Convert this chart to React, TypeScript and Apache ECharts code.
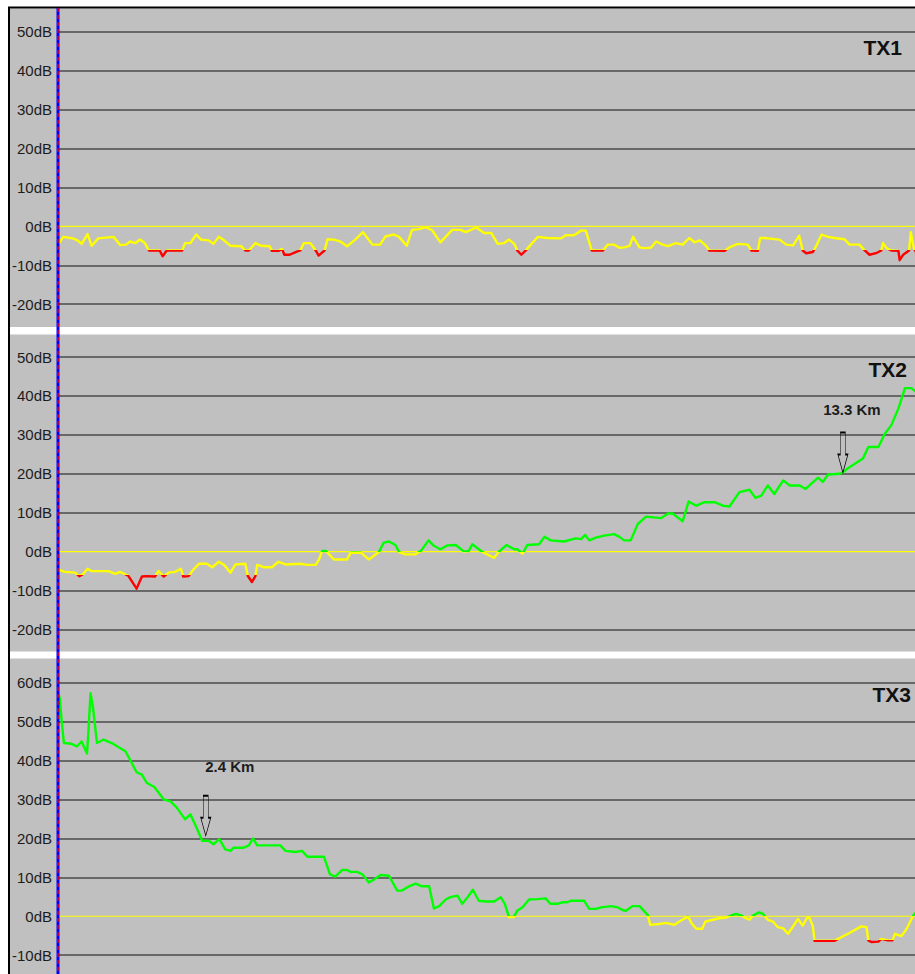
import { useEffect, useRef } from 'react';
import * as echarts from 'echarts';

// ---------------- data (distance in km, level in dB) ----------------
const panelTitles = ['TX1', 'TX2', 'TX3'];
const yMin = [-20, -20, -10];
const yMax = [50, 50, 60];
const yStep = 10;
const xMaxKm = 14.5;

const tx1: number[][] = [
  [0, -4.7], [0.09, -2.7], [0.25, -3.1], [0.33, -3.6], [0.4, -4.5], [0.5, -2.0], [0.57, -5.0], [0.68, -3.1],
  [0.94, -2.7], [1.05, -4.8], [1.15, -4.7], [1.22, -3.9], [1.31, -4.3], [1.39, -3.4], [1.47, -4.3], [1.54, -6.2],
  [1.72, -6.2], [1.77, -7.7], [1.84, -6.2], [2.1, -6.2], [2.15, -4.3], [2.24, -4.3], [2.34, -2.1], [2.42, -3.4],
  [2.55, -3.6], [2.63, -4.5], [2.72, -2.7], [2.81, -3.6], [2.92, -5.0], [3.1, -5.1], [3.17, -6.2], [3.23, -6.2],
  [3.34, -4.3], [3.44, -5.0], [3.58, -5.1], [3.62, -6.3], [3.73, -6.3], [3.79, -5.8], [3.83, -7.3], [3.92, -7.3],
  [4.02, -6.6], [4.1, -6.2], [4.16, -4.3], [4.27, -4.3], [4.36, -6.2], [4.41, -7.5], [4.51, -6.2], [4.56, -3.3],
  [4.67, -3.4], [4.78, -3.9], [4.89, -5.1], [5.03, -3.4], [5.16, -1.5], [5.32, -4.7], [5.45, -4.7], [5.54, -2.6],
  [5.68, -2.1], [5.77, -2.7], [5.9, -5.0], [5.99, -0.9], [6.11, -0.7], [6.22, -0.2], [6.33, -1.0], [6.47, -4.1],
  [6.67, -0.9], [6.81, -0.9], [6.9, -1.5], [7.08, -0.3], [7.21, -1.7], [7.33, -1.7], [7.44, -4.5], [7.55, -4.3],
  [7.63, -3.4], [7.72, -4.5], [7.77, -6.2], [7.84, -7.3], [7.92, -6.1], [8.0, -4.7], [8.12, -2.7], [8.28, -3.0],
  [8.51, -3.1], [8.59, -2.3], [8.73, -2.3], [8.85, -1.1], [8.93, -1.1], [9.03, -6.2], [9.22, -6.2], [9.3, -4.7],
  [9.41, -4.7], [9.5, -5.5], [9.58, -5.4], [9.67, -5.0], [9.73, -2.7], [9.84, -5.4], [9.92, -5.6], [10.03, -5.5],
  [10.12, -3.9], [10.23, -4.7], [10.32, -5.1], [10.45, -4.3], [10.57, -4.7], [10.68, -3.0], [10.77, -4.1], [10.86, -3.6],
  [10.97, -5.1], [11.02, -6.2], [11.28, -6.3], [11.36, -5.4], [11.5, -4.5], [11.67, -4.7], [11.73, -6.2], [11.84, -6.3],
  [11.88, -3.0], [11.95, -3.0], [12.21, -3.4], [12.32, -4.7], [12.44, -4.9], [12.54, -2.4], [12.6, -6.2], [12.66, -6.9],
  [12.77, -6.6], [12.82, -5.3], [12.92, -2.1], [13.03, -2.7], [13.14, -3.0], [13.31, -3.3], [13.39, -4.7], [13.56, -4.7],
  [13.65, -6.2], [13.73, -7.3], [13.84, -6.9], [13.93, -6.2], [13.96, -4.3], [14.02, -5.6], [14.1, -6.2], [14.22, -6.3],
  [14.24, -8.7], [14.3, -7.3], [14.4, -6.2], [14.43, -1.5], [14.48, -5.6], [14.53, -7.0],
];

const tx2: number[][] = [
  [0, -4.6], [0.12, -5.2], [0.29, -5.4], [0.36, -6.3], [0.43, -5.7], [0.5, -4.4], [0.57, -5.0], [0.85, -5.0],
  [0.97, -5.7], [1.05, -5.2], [1.19, -6.2], [1.33, -9.5], [1.42, -6.4], [1.5, -6.3], [1.64, -6.4], [1.7, -5.0],
  [1.79, -6.4], [1.87, -5.4], [1.98, -5.2], [2.08, -4.4], [2.12, -6.4], [2.21, -6.3], [2.29, -4.6], [2.39, -3.1],
  [2.52, -3.1], [2.61, -4.0], [2.72, -2.6], [2.81, -3.4], [2.92, -5.4], [3.0, -3.3], [3.17, -3.1], [3.21, -6.2],
  [3.28, -7.8], [3.34, -6.3], [3.37, -3.4], [3.48, -4.0], [3.62, -4.0], [3.73, -2.6], [3.85, -3.3], [4.1, -3.1],
  [4.22, -3.4], [4.36, -3.4], [4.41, -2.2], [4.47, 0.2], [4.53, 0.2], [4.67, -2.0], [4.89, -2.0], [4.95, -0.3],
  [5.13, -0.3], [5.26, -2.0], [5.43, -0.1], [5.51, 2.3], [5.6, 2.6], [5.71, 1.7], [5.77, -0.1], [5.88, -0.7],
  [6.05, -0.7], [6.14, 0.2], [6.27, 2.9], [6.36, 1.5], [6.47, 0.6], [6.59, 1.6], [6.73, 1.7], [6.87, 0],
  [6.95, 0.2], [7.01, 1.9], [7.18, -0.1], [7.38, -1.6], [7.46, 0], [7.59, 1.7], [7.72, 0.6], [7.77, 0.6],
  [7.86, -0.5], [7.94, 1.7], [8.14, 1.9], [8.23, 3.8], [8.34, 2.9], [8.56, 2.6], [8.76, 3.4], [8.85, 3.2],
  [8.92, 4.3], [8.99, 2.9], [9.1, 3.6], [9.24, 4.1], [9.41, 4.5], [9.5, 3.8], [9.58, 2.9], [9.69, 2.9],
  [9.81, 7.1], [9.95, 9.0], [10.2, 8.6], [10.32, 9.8], [10.4, 9.8], [10.57, 7.8], [10.67, 12.9], [10.8, 11.8],
  [10.94, 12.7], [11.11, 12.7], [11.25, 11.8], [11.36, 11.6], [11.53, 15.3], [11.7, 15.9], [11.8, 13.8], [11.9, 14.4],
  [12.01, 17.0], [12.12, 14.8], [12.27, 18.3], [12.38, 17.0], [12.55, 17.0], [12.65, 16.1], [12.86, 19.0], [12.94, 17.9],
  [13.03, 19.8], [13.23, 20.0], [13.28, 20.4], [13.39, 21.7], [13.62, 23.9], [13.71, 26.9], [13.88, 26.9], [13.99, 30.3],
  [14.1, 32.5], [14.22, 36.8], [14.33, 42.0], [14.44, 42.0], [14.53, 40.9],
];

const tx3: number[][] = [
  [0, 57.3], [0.03, 56.0], [0.06, 50.5], [0.1, 44.5], [0.23, 44.3], [0.32, 43.6], [0.4, 44.9], [0.49, 41.8],
  [0.51, 46.2], [0.55, 57.3], [0.59, 53.9], [0.66, 44.5], [0.77, 45.4], [0.91, 44.5], [1.02, 43.5], [1.14, 42.4],
  [1.22, 40.2], [1.33, 37.0], [1.42, 36.4], [1.5, 34.3], [1.63, 33.2], [1.79, 30.0], [1.9, 29.6], [2.01, 27.9],
  [2.15, 24.9], [2.24, 26.2], [2.32, 23.6], [2.44, 19.4], [2.55, 19.4], [2.63, 18.5], [2.73, 19.8], [2.83, 17.2],
  [2.92, 16.8], [2.97, 17.6], [3.14, 17.6], [3.23, 18.2], [3.3, 20.0], [3.37, 18.2], [3.76, 18.2], [3.85, 16.8],
  [4.02, 16.5], [4.13, 16.8], [4.22, 15.3], [4.5, 15.3], [4.6, 10.8], [4.69, 10.2], [4.81, 11.9], [4.89, 11.9],
  [4.95, 11.4], [5.06, 11.4], [5.15, 10.8], [5.26, 8.7], [5.34, 9.4], [5.46, 10.6], [5.6, 10.4], [5.74, 6.6],
  [5.82, 6.6], [5.94, 7.7], [6.05, 8.4], [6.16, 7.7], [6.28, 7.7], [6.36, 2.0], [6.45, 2.6], [6.56, 4.3],
  [6.64, 4.9], [6.76, 5.3], [6.84, 3.2], [6.93, 4.9], [7.02, 6.8], [7.12, 4.0], [7.24, 3.8], [7.38, 3.8],
  [7.49, 4.9], [7.56, 3.2], [7.63, -0.2], [7.71, -0.2], [7.77, 1.4], [7.86, 2.3], [7.97, 4.3], [8.11, 4.4],
  [8.25, 4.6], [8.33, 3.2], [8.45, 3.2], [8.54, 3.6], [8.62, 3.6], [8.68, 4.0], [8.9, 4.0], [8.99, 1.9],
  [9.1, 1.9], [9.19, 2.3], [9.36, 2.6], [9.47, 2.3], [9.55, 1.6], [9.61, 1.4], [9.72, 2.6], [9.84, 2.6],
  [9.98, 0.3], [10.02, -2.2], [10.17, -2.0], [10.29, -1.7], [10.43, -2.2], [10.54, -1.1], [10.66, -0.1], [10.73, -2.0],
  [10.8, -3.2], [10.9, -3.2], [10.95, -1.4], [11.08, -0.9], [11.19, -0.5], [11.31, -0.3], [11.39, 0.2], [11.47, 0.6],
  [11.56, 0.2], [11.64, -0.5], [11.7, -0.9], [11.76, 0.2], [11.86, 1.0], [11.93, 0.6], [12.01, -0.9], [12.1, -1.4],
  [12.18, -2.8], [12.27, -3.1], [12.35, -4.5], [12.41, -3.2], [12.52, -0.7], [12.6, -2.4], [12.67, -0.5], [12.71, -0.3],
  [12.77, -2.4], [12.8, -6.3], [13.14, -6.3], [13.2, -5.8], [13.39, -4.3], [13.59, -2.6], [13.68, -2.8], [13.71, -6.2],
  [13.76, -6.6], [13.88, -6.5], [13.93, -5.8], [14.04, -6.2], [14.12, -6.2], [14.16, -4.5], [14.27, -5.1], [14.36, -3.2],
  [14.47, 0.2], [14.53, 1.2],
];

const seriesData = [tx1, tx2, tx3];

// level classes: red below -6 dB, yellow -6..0 dB, green above 0 dB
const redBelow = -6;
const greenFrom = 0;

// distance markers
const markerPanels = [1, 2];
const markerKm = [13.28, 2.5];
const markerDb = [20.3, 20.7];
const markerText = ['13.3 Km', '2.4 Km'];

// ---------------- layout / style ----------------
const FONT = '"Liberation Sans", Arial, Helvetica, sans-serif';
const W = 915;
const H = 974;
const gridLeft = 58;
const gridTops = [31.7, 357, 682.7];
const gridHeight = 272.5;
const panelBands = [[8.5, 327], [334.5, 651.5], [658.5, 974]];
const titlePos = [[902, 47], [907, 369], [911, 694]];
const markerLabelOffset = [[9, -10], [24, -16]];
const BG = '#c0c0c0';
const GRID = '#686868';
const ARROW = 'path://M2.5 0H7.5V22H10L5 40L0 22H2.5Z';

function ticks(min: number, max: number, step: number) {
  const out: number[] = [];
  for (let v = min; v <= max + 1e-9; v += step) out.push(v);
  return out;
}

export default function App() {
  const ref = useRef<HTMLDivElement>(null);

  useEffect(() => {
    if (!ref.current) return;
    const chart = echarts.init(ref.current, undefined, { renderer: 'svg' });

    const grids = gridTops.map((t) => ({ left: gridLeft, right: 0, top: t, height: gridHeight, containLabel: false }));
    const xAxes = gridTops.map((_, i) => ({
      gridIndex: i, type: 'value', min: 0, max: xMaxKm, show: false,
    }));
    const yAxes = gridTops.map((_, i) => ({
      gridIndex: i,
      type: 'value',
      min: yMin[i],
      max: yMax[i],
      interval: yStep,
      axisLine: { show: false },
      axisTick: { show: false },
      axisLabel: {
        show: true, showMinLabel: true, showMaxLabel: true,
        formatter: '{value}dB', margin: 6, fontSize: 15, color: '#1c1c1c', fontFamily: FONT,
      },
      splitLine: {
        show: true,
        lineStyle: {
          width: 2,
          color: ticks(yMin[i], yMax[i], yStep).map((v) => (v === 0 ? 'rgba(0,0,0,0)' : GRID)),
        },
      },
    }));

    const zeroSeries = gridTops.map((_, i) => ({
      type: 'line', xAxisIndex: i, yAxisIndex: i, silent: true, showSymbol: false, z: 1,
      data: [[0, 0], [xMaxKm, 0]],
      lineStyle: { color: '#ffff00', width: 1.2 },
    }));

    const dataSeries = seriesData.map((d, i) => {
      const mk = markerPanels.indexOf(i);
      const s: any = {
        type: 'line', xAxisIndex: i, yAxisIndex: i, showSymbol: false, z: 3,
        data: d,
        lineStyle: { width: 2.4, join: 'round' },
      };
      if (mk >= 0) {
        s.markPoint = {
          silent: true,
          data: [{
            coord: [markerKm[mk], markerDb[mk]],
            symbol: ARROW,
            symbolSize: [10, 40],
            symbolOffset: [0, '-50%'],
            itemStyle: { color: 'rgba(0,0,0,0)', borderColor: '#000', borderWidth: 1 },
            label: {
              show: true, position: 'top', distance: 5, offset: markerLabelOffset[mk],
              formatter: markerText[mk], color: '#1c1c1c', fontWeight: 'bold', fontSize: 15, fontFamily: FONT,
            },
          }],
        };
      }
      return s;
    });

    const graphics: any[] = [];
    panelBands.forEach(([y0, y1]) => {
      graphics.push({ type: 'rect', z: -10, silent: true, shape: { x: 10, y: y0, width: W - 10, height: y1 - y0 }, style: { fill: BG } });
    });
    graphics.push({ type: 'line', z: 50, silent: true, shape: { x1: 9, y1: 7, x2: 9, y2: H }, style: { stroke: '#000', lineWidth: 2 } });
    graphics.push({ type: 'line', z: 50, silent: true, shape: { x1: 8, y1: 7.5, x2: W, y2: 7.5 }, style: { stroke: '#000', lineWidth: 2 } });
    graphics.push({ type: 'line', z: 50, silent: true, shape: { x1: gridLeft, y1: 8, x2: gridLeft, y2: H }, style: { stroke: '#0000ff', lineWidth: 3 } });
    graphics.push({ type: 'line', z: 51, silent: true, shape: { x1: gridLeft, y1: 8, x2: gridLeft, y2: H }, style: { stroke: '#ff0000', lineWidth: 1.3, lineDash: [4, 3] } });
    panelTitles.forEach((t, i) => {
      graphics.push({
        type: 'text', z: 40, silent: true, x: titlePos[i][0], y: titlePos[i][1],
        style: { text: t, align: 'right', verticalAlign: 'middle', fill: '#111', font: `bold 21px ${FONT}` },
      });
    });

    chart.setOption({
      animation: false,
      backgroundColor: '#ffffff',
      grid: grids,
      xAxis: xAxes,
      yAxis: yAxes,
      visualMap: {
        type: 'piecewise', show: false, dimension: 1, seriesIndex: [3, 4, 5],
        pieces: [
          { lt: redBelow, color: '#ff0000' },
          { gte: redBelow, lt: greenFrom, color: '#ffff00' },
          { gte: greenFrom, color: '#00ff00' },
        ],
      },
      series: [...zeroSeries, ...dataSeries],
      graphic: graphics,
    });

    return () => chart.dispose();
  }, []);

  return <div ref={ref} style={{ position: 'absolute', left: 0, top: 0, width: W, height: H }} />;
}
